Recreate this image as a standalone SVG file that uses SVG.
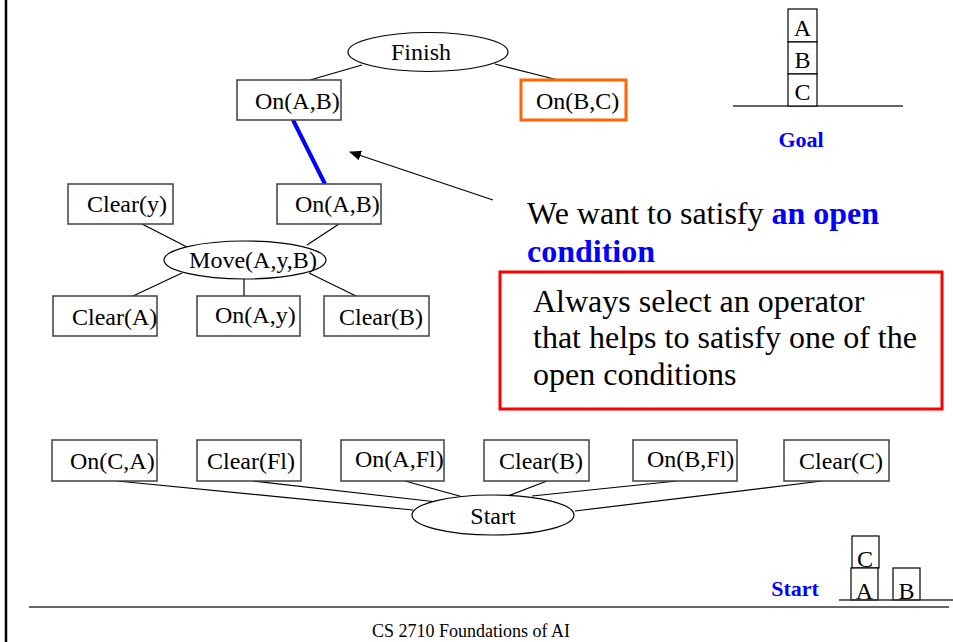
<svg xmlns="http://www.w3.org/2000/svg" width="953" height="642" viewBox="0 0 953 642">
<defs>
<style>
text{font-family:"Liberation Serif","Times New Roman",serif;fill:#000}
.n{font-size:24px}
.box{fill:#fff;stroke:#404040;stroke-width:1.5}
.ell{fill:#fff;stroke:#000;stroke-width:1.2}
.c{stroke:#000;stroke-width:1.2;fill:none}
.big{font-size:32px}
.blue{fill:#0000ff;font-weight:bold}
.blk{fill:#fff;stroke:#000;stroke-width:1.2}
.gl{stroke:#666;stroke-width:2}
</style>
<marker id="ah" markerWidth="12" markerHeight="10" refX="11" refY="5" orient="auto" markerUnits="userSpaceOnUse">
<path d="M0,0 L12,5 L0,10 Z" fill="#000"/>
</marker>
</defs>
<rect width="953" height="642" fill="#fff"/>
<line x1="6" y1="0" x2="6" y2="642" stroke="#000" stroke-width="2.5"/>

<g id="connectors">
<line class="c" x1="310" y1="80" x2="362" y2="65"/>
<line class="c" x1="558" y1="80" x2="495" y2="64"/>
<line x1="293" y1="120" x2="325" y2="184" stroke="#0000ff" stroke-width="4"/>
<line class="c" x1="142" y1="224" x2="187" y2="247"/>
<line class="c" x1="339" y1="224" x2="307" y2="245"/>
<line class="c" x1="133" y1="296" x2="182" y2="273"/>
<line class="c" x1="244" y1="279" x2="244" y2="296"/>
<line class="c" x1="356" y1="296" x2="309" y2="273"/>
<line class="c" x1="117" y1="481" x2="413" y2="510"/>
<line class="c" x1="253" y1="481" x2="437" y2="502"/>
<line class="c" x1="405" y1="481" x2="463" y2="497"/>
<line class="c" x1="547" y1="481" x2="508" y2="496"/>
<line class="c" x1="677" y1="481" x2="532" y2="496"/>
<line class="c" x1="822" y1="481" x2="575" y2="511"/>
<line class="c" x1="493" y1="200" x2="350" y2="152" marker-end="url(#ah)"/>
</g>

<g id="finish"><ellipse class="ell" cx="428" cy="52" rx="80" ry="19.5"/><text class="n" x="421" y="60" text-anchor="middle">Finish</text></g>
<g id="onAB-top"><rect class="box" x="237" y="80" width="104" height="40"/><text class="n" x="255" y="109">On(A,B)</text></g>
<g id="onBC-top"><rect x="521" y="80" width="105" height="40" fill="#fff" stroke="#ff6600" stroke-width="3"/><text class="n" x="536" y="109">On(B,C)</text></g>

<g id="clear-y"><rect class="box" x="68" y="184" width="105" height="40"/><text class="n" x="87" y="212">Clear(y)</text></g>
<g id="onAB-mid"><rect class="box" x="277" y="184" width="104" height="40"/><text class="n" x="295" y="212">On(A,B)</text></g>
<g id="move"><ellipse class="ell" cx="245" cy="260" rx="81" ry="19"/><text class="n" x="253" y="268" text-anchor="middle">Move(A,y,B)</text></g>
<g id="clear-A"><rect class="box" x="53" y="296" width="104" height="40"/><text class="n" x="72" y="325">Clear(A)</text></g>
<g id="onAy"><rect class="box" x="197" y="296" width="103" height="40"/><text class="n" x="215" y="323">On(A,y)</text></g>
<g id="clear-B-mid"><rect class="box" x="324" y="296" width="105" height="40"/><text class="n" x="339" y="325">Clear(B)</text></g>

<g id="onCA"><rect class="box" x="52" y="440" width="105" height="41"/><text class="n" x="70" y="469">On(C,A)</text></g>
<g id="clear-Fl"><rect class="box" x="197" y="440" width="104" height="41"/><text class="n" x="207" y="469">Clear(Fl)</text></g>
<g id="onAFl"><rect class="box" x="341" y="440" width="103" height="41"/><text class="n" x="355" y="467">On(A,Fl)</text></g>
<g id="clear-B-bot"><rect class="box" x="484" y="440" width="105" height="41"/><text class="n" x="499" y="469">Clear(B)</text></g>
<g id="onBFl"><rect class="box" x="633" y="440" width="104" height="41"/><text class="n" x="647" y="467">On(B,Fl)</text></g>
<g id="clear-C"><rect class="box" x="784" y="440" width="105" height="41"/><text class="n" x="799" y="469">Clear(C)</text></g>
<g id="start"><ellipse class="ell" cx="493" cy="515" rx="81" ry="20"/><text class="n" x="493" y="524" text-anchor="middle">Start</text></g>

<g id="callout">
<text class="big" x="527" y="224">We want to satisfy <tspan class="blue">an open</tspan></text>
<text class="big blue" x="527" y="262">condition</text>
</g>
<g id="rule">
<rect x="500" y="272" width="442" height="137" fill="#fff" stroke="#ff0000" stroke-width="3"/>
<text class="big" x="533" y="312">Always select an operator</text>
<text class="big" x="533" y="348">that helps to satisfy one of the</text>
<text class="big" x="533" y="385">open conditions</text>
</g>

<g id="goal-state">
<line class="gl" x1="733" y1="106" x2="903" y2="106"/>
<rect class="blk" x="788" y="9" width="29" height="33"/>
<rect class="blk" x="788" y="42" width="29" height="32"/>
<rect class="blk" x="788" y="74" width="29" height="32"/>
<text class="n" x="802.5" y="36" text-anchor="middle">A</text>
<text class="n" x="802.5" y="68" text-anchor="middle">B</text>
<text class="n" x="802.5" y="100" text-anchor="middle">C</text>
<text x="801" y="147" font-size="22" text-anchor="middle" class="blue">Goal</text>
</g>

<g id="start-state">
<rect class="blk" x="852" y="536" width="27" height="32"/>
<rect class="blk" x="851" y="568" width="27" height="32"/>
<rect class="blk" x="893" y="568" width="27" height="32"/>
<text class="n" x="865" y="567" text-anchor="middle">C</text>
<text class="n" x="864.5" y="599" text-anchor="middle">A</text>
<text class="n" x="906.5" y="599" text-anchor="middle">B</text>
<line x1="839" y1="600" x2="953" y2="600" stroke="#333" stroke-width="1.5"/>
<text x="795" y="596" font-size="22" text-anchor="middle" class="blue">Start</text>
</g>

<g id="footer">
<line class="gl" x1="29" y1="607" x2="949" y2="607"/>
<text x="471" y="637" font-size="18" text-anchor="middle">CS 2710 Foundations of AI</text>
</g>
</svg>
